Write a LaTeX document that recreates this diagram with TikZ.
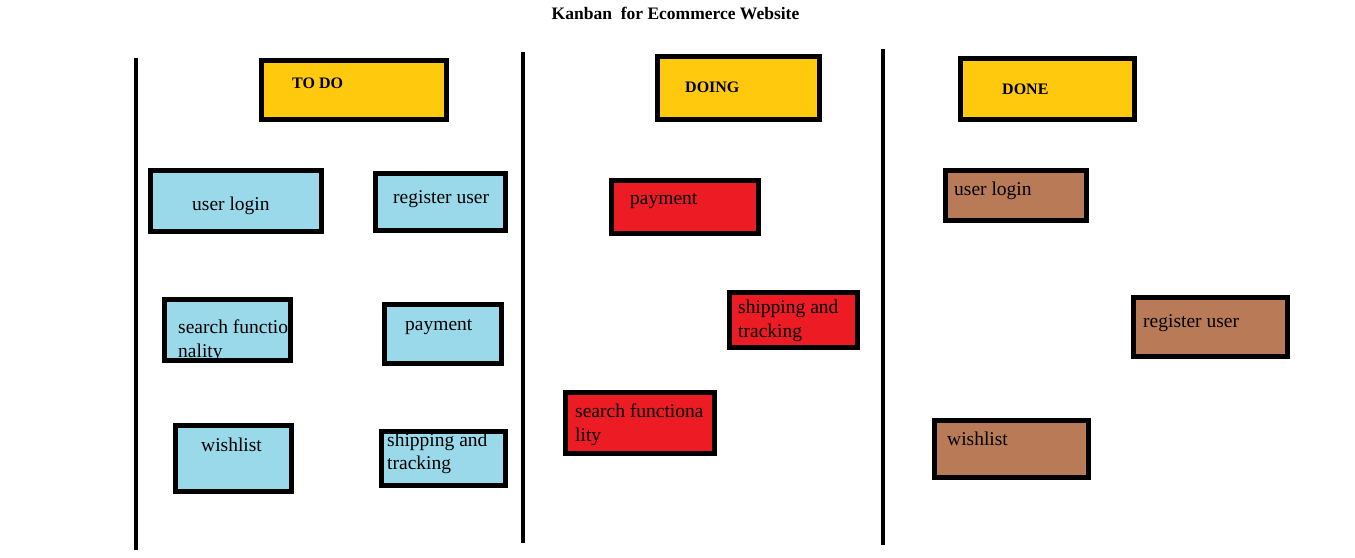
\documentclass[tikz,border=0pt]{standalone}
\usepackage{fontspec}
\setmainfont{Liberation Serif}
\usetikzlibrary{fit}
\definecolor{hdr}{HTML}{FFC90E}
\definecolor{todoc}{HTML}{99D9EA}
\definecolor{doingc}{HTML}{ED1C24}
\definecolor{donec}{HTML}{B97A57}
\tikzset{
  kb/.style={draw=black, line width=5pt, inner sep=0pt, rectangle},
  sepline/.style={draw=black, line width=4pt},
  ttl/.style={anchor=base, font=\bfseries\fontsize{17.5}{20}\selectfont, inner sep=0pt},
  htxt/.style={anchor=base west, font=\bfseries\fontsize{16}{19}\selectfont, inner sep=0pt},
  btxt/.style={anchor=base west, font=\fontsize{19.5}{24}\selectfont, inner sep=0pt}
}
\newcommand{\kbox}[6]{\node[kb, fill=#6, fit={(#2+2.5,#3+2.5) (#4-2.5,#5-2.5)}] (#1) {};}
\begin{document}
\begin{tikzpicture}[x=1pt,y=-1pt]
\useasboundingbox[fill=white] (0,0) rectangle (1355,557);
% title
\node[ttl] (title) at (675.5,19) {Kanban\ \ for Ecommerce Website};
% column separators
\draw[sepline] (136,58) -- (136,550);
\draw[sepline] (523,52) -- (523,543);
\draw[sepline] (883,49) -- (883,545);
% headers
\kbox{todo}{259}{58}{449}{122}{hdr}
\kbox{doing}{655}{54}{822}{122}{hdr}
\kbox{done}{958}{56}{1137}{122}{hdr}
\node[htxt] (ttodo) at (292,88) {TO DO};
\node[htxt] (tdoing) at (685,92) {DOING};
\node[htxt] (tdone) at (1002,94) {DONE};
% TO DO cards
\kbox{a1}{148}{168}{324}{234}{todoc}
\kbox{a2}{373}{171}{508}{233}{todoc}
\kbox{a3}{162}{297}{293}{363}{todoc}
\kbox{a4}{382}{302}{504}{366}{todoc}
\kbox{a5}{173}{423}{294}{494}{todoc}
\kbox{a6}{379}{429}{508}{488}{todoc}
\node[btxt] (ta1) at (192,210) {user login};
\node[btxt] (ta2) at (393,203) {register user};
\node[btxt] (ta3) at (178,333) {search functio};
\node[btxt] (ta3b) at (178,357) {nality};
\node[btxt] (ta4) at (405,330) {payment};
\node[btxt] (ta5) at (201,451) {wishlist};
\node[btxt] (ta6) at (387,446) {shipping and};
\node[btxt] (ta6b) at (387,469) {tracking};
% DOING cards
\kbox{b1}{609}{178}{761}{236}{doingc}
\kbox{b2}{727}{290}{860}{350}{doingc}
\kbox{b3}{563}{390}{717}{456}{doingc}
\node[btxt] (tb1) at (630,204) {payment};
\node[btxt] (tb2) at (738,313) {shipping and};
\node[btxt] (tb2b) at (738,337) {tracking};
\node[btxt] (tb3) at (575,417) {search functiona};
\node[btxt] (tb3b) at (575,441) {lity};
% DONE cards
\kbox{c1}{943}{168}{1089}{223}{donec}
\kbox{c2}{1131}{295}{1290}{359}{donec}
\kbox{c3}{932}{418}{1091}{480}{donec}
\node[btxt] (tc1) at (954,195) {user login};
\node[btxt] (tc2) at (1143,327) {register user};
\node[btxt] (tc3) at (947,445) {wishlist};
\end{tikzpicture}
\end{document}
